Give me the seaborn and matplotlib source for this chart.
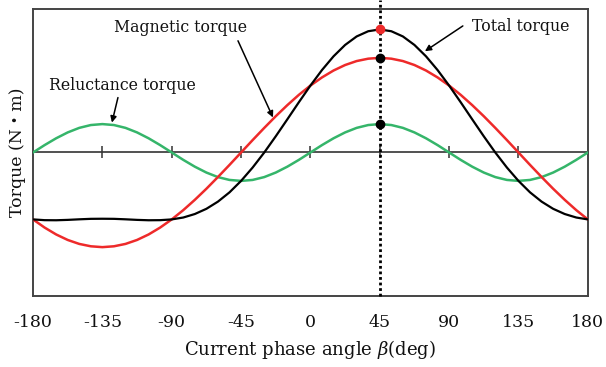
import numpy as np
import pandas as pd
import matplotlib
matplotlib.use("Agg")
import matplotlib.pyplot as plt
import seaborn as sns

# ---- data (y in relative units) ----
beta = [-180, -172.5, -165, -157.5, -150, -142.5, -135, -127.5, -120, -112.5,
        -105, -97.5, -90, -82.5, -75, -67.5, -60, -52.5, -45, -37.5,
        -30, -22.5, -15, -7.5, 0, 7.5, 15, 22.5, 30, 37.5,
        45, 52.5, 60, 67.5, 75, 82.5, 90, 97.5, 105, 112.5,
        120, 127.5, 135, 142.5, 150, 157.5, 165, 172.5, 180]

magnetic = [-0.707, -0.793, -0.866, -0.924, -0.966, -0.991, -1.0, -0.991, -0.966, -0.924,
            -0.866, -0.793, -0.707, -0.609, -0.5, -0.383, -0.259, -0.131, 0.0, 0.131,
            0.259, 0.383, 0.5, 0.609, 0.707, 0.793, 0.866, 0.924, 0.966, 0.991,
            1.0, 0.991, 0.966, 0.924, 0.866, 0.793, 0.707, 0.609, 0.5, 0.383,
            0.259, 0.131, 0.0, -0.131, -0.259, -0.383, -0.5, -0.609, -0.707]

reluctance = [0.0, 0.078, 0.15, 0.212, 0.26, 0.29, 0.3, 0.29, 0.26, 0.212,
              0.15, 0.078, 0.0, -0.078, -0.15, -0.212, -0.26, -0.29, -0.3, -0.29,
              -0.26, -0.212, -0.15, -0.078, 0.0, 0.078, 0.15, 0.212, 0.26, 0.29,
              0.3, 0.29, 0.26, 0.212, 0.15, 0.078, 0.0, -0.078, -0.15, -0.212,
              -0.26, -0.29, -0.3, -0.29, -0.26, -0.212, -0.15, -0.078, 0.0]

total = [-0.707, -0.715, -0.716, -0.712, -0.706, -0.701, -0.700, -0.701, -0.706, -0.712,
         -0.716, -0.715, -0.707, -0.687, -0.65, -0.595, -0.519, -0.421, -0.3, -0.159,
         -0.001, 0.171, 0.35, 0.531, 0.707, 0.871, 1.016, 1.136, 1.226, 1.281,
         1.3, 1.281, 1.226, 1.136, 1.016, 0.871, 0.707, 0.531, 0.35, 0.171,
         -0.001, -0.159, -0.3, -0.421, -0.519, -0.595, -0.65, -0.687, -0.707]

xticks = [-180, -135, -90, -45, 0, 45, 90, 135, 180]
zero_ticks = [-135, -90, -45, 0, 45, 90, 135]
peak_beta = 45
peak_total = 1.3
peak_magnetic = 1.0
peak_reluctance = 0.3

sns.set_theme(style="white")
plt.rcParams['font.family'] = ['DejaVu Serif', 'Noto Sans CJK JP']
plt.rcParams['mathtext.fontset'] = 'dejavuserif'

df = pd.DataFrame({"beta": beta, "Magnetic": magnetic,
                   "Reluctance": reluctance, "Total": total})

fig = plt.figure(figsize=(6.06, 3.67), dpi=100)
ax = fig.add_axes([0.0545, 0.1935, 0.9155, 0.782])

red = "#ee2a2a"
green = "#35b56a"

sns.lineplot(data=df, x="beta", y="Reluctance", ax=ax, color=green, lw=1.8, zorder=3)
sns.lineplot(data=df, x="beta", y="Magnetic", ax=ax, color=red, lw=1.8, zorder=4)
sns.lineplot(data=df, x="beta", y="Total", ax=ax, color="black", lw=1.6, zorder=5)

# zero line with tick marks
ax.axhline(0, color="#333333", lw=1.2, zorder=2)
ax.plot(zero_ticks, [0] * len(zero_ticks), ls="none", marker="|",
        ms=9, mew=1.1, color="#333333", zorder=2)

# dotted vertical line at 45 deg
ax.axvline(peak_beta, ymin=0, ymax=1.03, color="black", ls=(0, (1, 1)),
           lw=2.0, clip_on=False, zorder=6)

# peak markers
ax.plot([peak_beta], [peak_total], "o", color=red, ms=6, zorder=7, clip_on=False)
ax.plot([peak_beta, peak_beta], [peak_magnetic, peak_reluctance], "o",
        color="black", ms=6, zorder=7)

ax.set_xlim(-180, 180)
ax.set_ylim(-1.516, 1.516)
ax.set_xticks(xticks)
ax.set_xticklabels([str(t) for t in xticks], fontsize=12.5, color="#111111")
ax.set_yticks([])
ax.tick_params(axis="x", length=0, pad=13)
ax.set_xlabel(r"Current phase angle $\beta$(deg)", fontsize=13, labelpad=5,
              color="#111111")
ax.set_ylabel("Torque (N・m)", fontsize=12.5, labelpad=5, color="#111111")

for side in ["left", "bottom", "top", "right"]:
    ax.spines[side].set_visible(True)
    ax.spines[side].set_color("#444444")
    ax.spines[side].set_linewidth(1.4)

# annotations
arrow = dict(arrowstyle="-|>", color="black", lw=1.1, mutation_scale=9,
             shrinkA=0, shrinkB=0)
ax.text(-84, 1.316, "Magnetic torque", ha="center", va="center", fontsize=11.3,
        color="#111111")
ax.annotate("", xy=(-24.3, 0.37), xytext=(-47, 1.18), arrowprops=arrow)
ax.text(-122.3, 0.705, "Reluctance torque", ha="center", va="center", fontsize=11.3,
        color="#111111")
ax.annotate("", xy=(-128.8, 0.316), xytext=(-124.9, 0.58), arrowprops=arrow)
ax.text(136.5, 1.326, "Total torque", ha="center", va="center", fontsize=11.3,
        color="#111111")
ax.annotate("", xy=(74.3, 1.07), xytext=(98.9, 1.337), arrowprops=arrow)

fig.savefig("out.png", dpi=100)
